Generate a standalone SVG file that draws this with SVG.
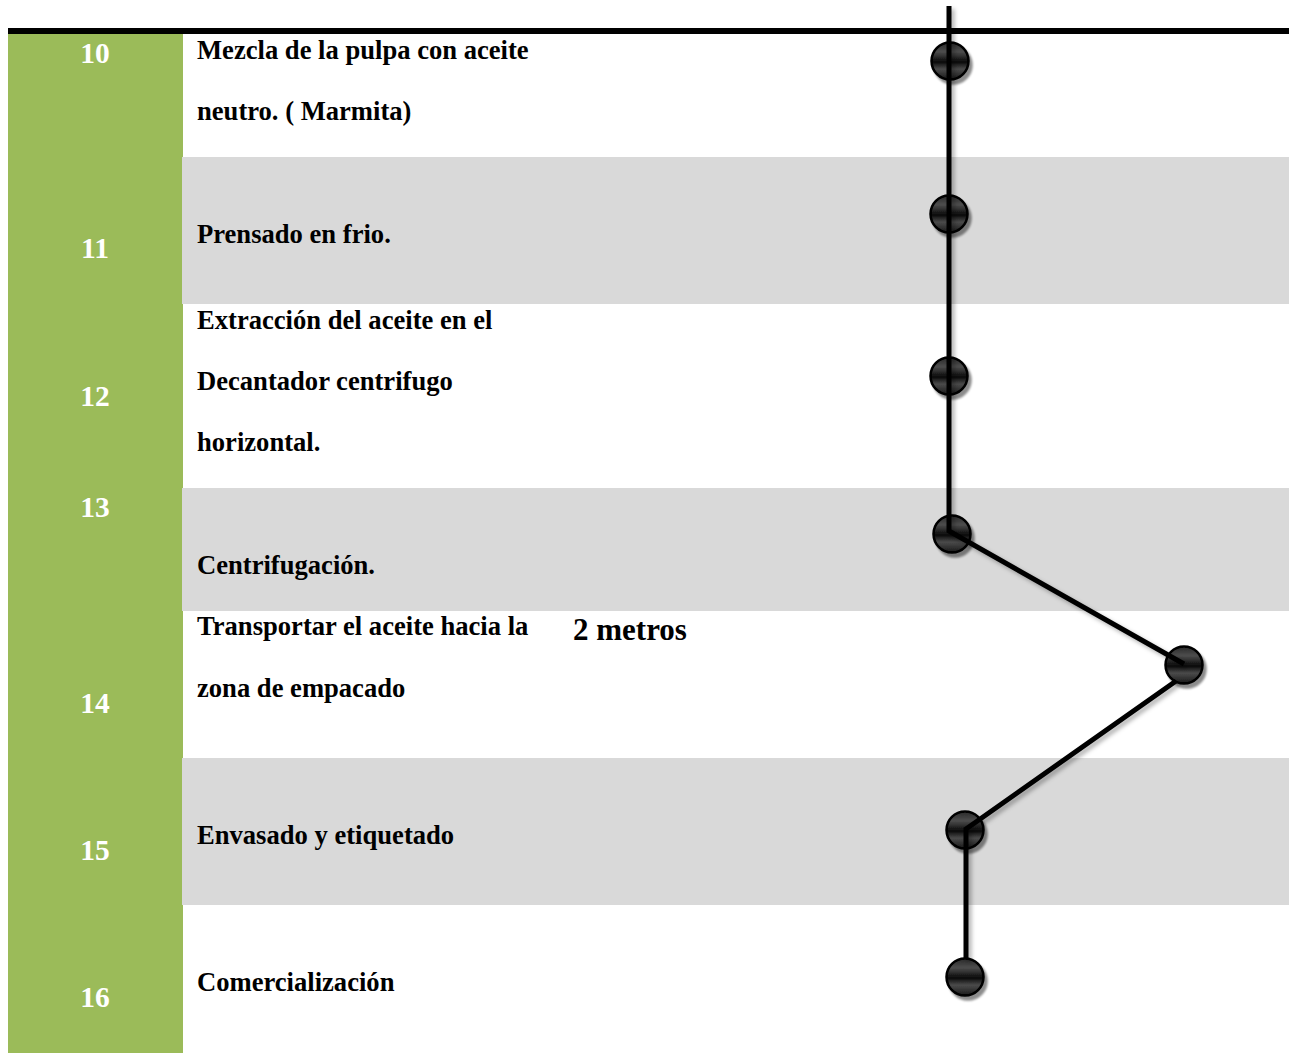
<svg xmlns="http://www.w3.org/2000/svg" width="1289" height="1053" viewBox="0 0 1289 1053">
  <style>
    .num { font-family: "Liberation Serif", "Times New Roman", serif; font-weight: bold; font-size: 29.5px; fill: #ffffff; text-anchor: middle; }
    .lbl { font-family: "Liberation Serif", "Times New Roman", serif; font-weight: bold; font-size: 26.6px; fill: #000000; }
    .dist { font-family: "Liberation Serif", "Times New Roman", serif; font-weight: bold; font-size: 31px; fill: #000000; }
    .band { fill: #D9D9D9; }
    .dot { fill: url(#dotFill); stroke: #000000; stroke-width: 2.5; filter: url(#dotShadow); }
    .link { fill: none; stroke: #000000; stroke-width: 5; stroke-linejoin: miter; filter: url(#lineShadow); }
  </style>
  <defs>
    <linearGradient id="dotFill" x1="0" y1="0" x2="0" y2="1">
      <stop offset="0" stop-color="#2a2a2a"/>
      <stop offset="0.25" stop-color="#4d4d4d"/>
      <stop offset="0.52" stop-color="#0a0a0a"/>
      <stop offset="0.72" stop-color="#4a4a4a"/>
      <stop offset="1" stop-color="#1a1a1a"/>
    </linearGradient>
    <filter id="dotShadow" x="-30%" y="-30%" width="170%" height="170%">
      <feDropShadow dx="3" dy="4" stdDeviation="1.2" flood-color="#000000" flood-opacity="0.45"/>
    </filter>
    <filter id="lineShadow" x="-20%" y="-5%" width="140%" height="110%">
      <feDropShadow dx="3" dy="3" stdDeviation="2" flood-color="#000000" flood-opacity="0.3"/>
    </filter>
  </defs>

  <rect x="0" y="0" width="1289" height="1053" fill="#ffffff"/>

  <!-- number column -->
  <rect x="8" y="34" width="175" height="1019" fill="#9BBB59"/>

  <!-- table top rule -->
  <rect x="8" y="28" width="1281" height="6" fill="#000000"/>

  <g id="step10">
    <text class="num" x="95" y="63">10</text>
    <text class="lbl" x="197" y="59">Mezcla de la pulpa con aceite</text>
    <text class="lbl" x="197" y="120">neutro. ( Marmita)</text>
  </g>
  <g id="step11">
    <rect class="band" x="182" y="157" width="1107" height="147"/>
    <text class="num" x="95" y="258">11</text>
    <text class="lbl" x="197" y="243">Prensado en frio.</text>
  </g>
  <g id="step12">
    <text class="num" x="95" y="406">12</text>
    <text class="lbl" x="197" y="329">Extracción del aceite en el</text>
    <text class="lbl" x="197" y="390">Decantador centrifugo</text>
    <text class="lbl" x="197" y="451">horizontal.</text>
  </g>
  <g id="step13">
    <rect class="band" x="182" y="488" width="1107" height="123"/>
    <text class="num" x="95" y="517">13</text>
    <text class="lbl" x="197" y="574">Centrifugación.</text>
  </g>
  <g id="step14">
    <text class="num" x="95" y="713">14</text>
    <text class="lbl" x="197" y="635">Transportar el aceite hacia la</text>
    <text class="lbl" x="197" y="697">zona de empacado</text>
    <text class="dist" x="573" y="640">2 metros</text>
  </g>
  <g id="step15">
    <rect class="band" x="182" y="758" width="1107" height="147"/>
    <text class="num" x="95" y="860">15</text>
    <text class="lbl" x="197" y="844">Envasado y etiquetado</text>
  </g>
  <g id="step16">
    <text class="num" x="95" y="1007">16</text>
    <text class="lbl" x="197" y="991">Comercialización</text>
  </g>

  <!-- operation markers -->
  <g id="mark10"><circle class="dot" cx="950" cy="61" r="18.5"/></g>
  <g id="mark11"><circle class="dot" cx="949" cy="214" r="18.5"/></g>
  <g id="mark12"><circle class="dot" cx="949" cy="376" r="18.5"/></g>
  <g id="mark13"><circle class="dot" cx="952" cy="534" r="18.5"/></g>
  <g id="mark14"><circle class="dot" cx="1184" cy="665" r="18.5"/></g>
  <g id="mark15"><circle class="dot" cx="965" cy="830" r="18.5"/></g>
  <g id="mark16"><circle class="dot" cx="965" cy="977" r="18.5"/></g>

  <!-- flow path -->
  <g id="connectors">
    <path class="link" d="M949,6 V531 L1184,664"/>
    <path class="link" d="M1176,681 L966,829 V958"/>
  </g>
</svg>
